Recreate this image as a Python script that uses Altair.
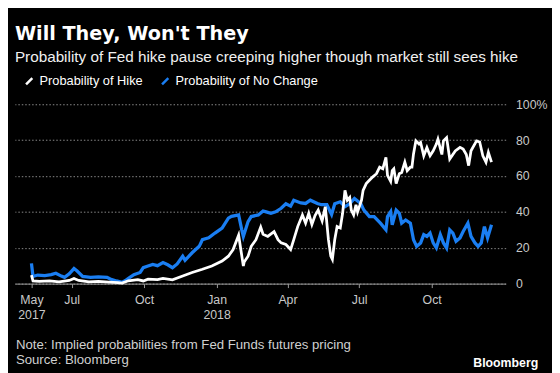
import altair as alt
import pandas as pd

START = "2017-05-11"

# Probability of Hike (white line): days since 2017-05-11, percent
hike_days = [0, 2, 10, 23, 35, 48, 54, 60, 73, 85, 98, 110, 115, 123, 135, 142, 148, 160, 167, 179,
             192, 204, 217, 229, 242, 250, 256, 263, 269, 270, 275, 279, 285, 291, 294, 300, 308, 313,
             317, 323, 329, 333, 338, 344, 348, 352, 356, 360, 364, 369, 373, 377, 380, 382, 385, 388,
             392, 395, 398, 401, 404, 406, 409, 412, 414, 419, 421, 425, 429, 433, 438, 442, 446, 450,
             452, 456, 458, 460, 463, 467, 470, 474, 477, 481, 483, 485, 488, 492, 494, 498, 502, 506,
             510, 514, 516, 521, 523, 527, 531, 538, 544, 548, 552, 555, 558, 565, 569, 573, 577, 580, 584]
hike_vals = [4.7, 1.5, 1.2, 1.5, 1.0, 1.8, 2.9, 1.8, 1.0, 1.2, 0.8, 0.5, 0.3, 1.6, 2.2, 1.5, 2.5, 2.2, 2.9, 2.1,
             4.3, 6.2, 8.0, 9.8, 12.6, 15.3, 19.0, 27.0, 9.8, 12.0, 15.3, 20.8, 24.5, 31.5, 27.5, 26.3, 29.0, 24.5,
             22.7, 21.8, 19.0, 24.5, 31.8, 38.3, 33.7, 39.2, 33.0, 38.0, 41.0, 35.0, 42.9, 24.5, 15.3, 13.5, 24.5, 31.8,
             31.0, 39.2, 52.0, 46.5, 48.0, 41.0, 38.3, 44.0, 40.0, 46.5, 52.0, 55.8, 57.6, 59.4, 61.3, 64.9, 64.0, 70.4,
             60.3, 57.0, 63.0, 64.0, 55.8, 61.3, 62.0, 67.7, 63.0, 64.9, 64.9, 72.3, 79.6, 77.8, 78.7, 71.3, 75.9, 71.3,
             74.1, 77.8, 80.5, 72.0, 79.6, 81.4, 69.5, 74.0, 76.0, 75.0, 72.0, 65.8, 74.1, 79.6, 79.0, 71.3, 67.7, 73.2, 67.7]

# Probability of No Change (blue line)
nochange_days = [0, 2, 8, 17, 25, 31, 38, 42, 48, 54, 58, 65, 75, 85, 96, 100, 108, 115, 120, 125,
                 130, 138, 142, 148, 154, 160, 167, 173, 179, 185, 192, 195, 204, 213, 217, 225, 233, 242,
                 250, 254, 263, 267, 269, 275, 279, 288, 294, 298, 304, 310, 317, 323, 329, 333, 342, 348,
                 354, 363, 368, 375, 381, 385, 392, 398, 404, 410, 418, 422, 429, 435, 443, 450, 452, 456,
                 458, 463, 467, 470, 475, 481, 485, 489, 494, 498, 502, 506, 510, 514, 519, 523, 527, 531,
                 535, 539, 544, 548, 554, 558, 563, 567, 571, 575, 579, 584]
nochange_vals = [11.3, 4.0, 4.8, 4.5, 5.0, 5.8, 4.2, 3.5, 5.5, 8.4, 7.0, 4.0, 3.5, 3.8, 3.5, 2.6, 1.5, 0.7, 2.0, 3.5,
                 5.0, 6.2, 8.9, 9.8, 10.7, 10.0, 11.7, 10.5, 8.9, 11.0, 15.3, 13.0, 17.2, 20.8, 24.5, 25.5, 28.2, 31.0,
                 36.5, 37.5, 38.3, 30.0, 26.3, 34.6, 37.4, 38.3, 40.5, 40.0, 39.2, 40.0, 42.0, 44.5, 43.2, 46.5, 45.0, 44.7,
                 46.5, 44.7, 44.0, 44.0, 38.5, 44.5, 45.6, 42.9, 44.5, 47.5, 44.7, 41.0, 37.4, 37.4, 33.7, 30.0, 37.4, 40.1,
                 32.8, 41.0, 39.2, 33.7, 35.5, 33.7, 24.5, 20.8, 22.7, 27.3, 26.3, 28.2, 22.7, 19.9, 27.3, 22.7, 19.9, 30.0,
                 28.2, 23.6, 25.5, 29.1, 33.7, 26.3, 22.7, 20.8, 22.7, 31.8, 25.5, 32.8]

series_names = ["Probability of Hike", "Probability of No Change"]
series_colors = ["#ffffff", "#1a7ef2"]

title_text = "Will They, Won't They"
subtitle_text = "Probability of Fed hike pause creeping higher though market still sees hike"
note_lines = ["Note: Implied probabilities from Fed Funds futures pricing", "Source: Bloomberg"]
brand_text = "Bloomberg"

y_ticks = [0, 20, 40, 60, 80, 100]

start = pd.Timestamp(START)
df = pd.concat([
    pd.DataFrame({"date": start + pd.to_timedelta(hike_days, unit="D"),
                  "value": hike_vals, "series": series_names[0]}),
    pd.DataFrame({"date": start + pd.to_timedelta(nochange_days, unit="D"),
                  "value": nochange_vals, "series": series_names[1]}),
], ignore_index=True)

W, H = 498, 182
FONT = "Liberation Sans"

x_enc = alt.X(
    "date:T",
    scale=alt.Scale(domain=[alt.DateTime(year=2017, month=4, date=20),
                            alt.DateTime(year=2019, month=1, date=3)]),
    axis=alt.Axis(
        title=None, grid=False,
        values=[alt.DateTime(year=2017, month=5, date=11), alt.DateTime(year=2017, month=7, date=1),
                alt.DateTime(year=2017, month=10, date=1), alt.DateTime(year=2018, month=1, date=1),
                alt.DateTime(year=2018, month=4, date=1), alt.DateTime(year=2018, month=7, date=1),
                alt.DateTime(year=2018, month=10, date=1)],
        labelExpr="(month(datum.value) == 0 || (year(datum.value) == 2017 && month(datum.value) == 4)) ? [timeFormat(datum.value, '%b'), timeFormat(datum.value, '%Y')] : timeFormat(datum.value, '%b')",
        labelFlush=False, labelOverlap=False,
        domainColor="#9a9a9a", tickColor="#9a9a9a", tickSize=4,
        labelColor="#c8c8c8", labelFont=FONT, labelFontSize=12.5, labelLineHeight=15,
        labelPadding=6, labelBaseline="top",
    ),
)
y_enc = alt.Y(
    "value:Q",
    scale=alt.Scale(domain=[0, 100], nice=False),
    axis=alt.Axis(
        title=None, orient="right", values=y_ticks, grid=True, gridDash=[1.5, 2],
        gridColor="#8a8a8a", gridWidth=1, domain=False, ticks=False,
        labelExpr="datum.value == 100 ? '100%' : datum.label",
        labelColor="#c8c8c8", labelFont=FONT, labelFontSize=12.5, labelPadding=10,
    ),
)
color_enc = alt.Color(
    "series:N",
    scale=alt.Scale(domain=series_names, range=series_colors),
    legend=alt.Legend(
        orient="none", legendX=8, legendY=-30, direction="horizontal", title=None,
        symbolType="M-1,1L1,-1", symbolStrokeWidth=2.5, symbolSize=40,
        labelColor="#ffffff", labelFont=FONT, labelFontSize=13, columnPadding=14,
        symbolOffset=0, padding=0,
    ),
)

base = alt.Chart(df).encode(x=x_enc, y=y_enc, color=color_enc)
blue = base.transform_filter(alt.datum.series == series_names[1]).mark_line(strokeWidth=3.3)
white = base.transform_filter(alt.datum.series == series_names[0]).mark_line(strokeWidth=2.8)

note1 = alt.Chart(pd.DataFrame({"t": [note_lines[0]]})).mark_text(
    align="left", baseline="alphabetic", font=FONT, fontSize=13.4, color="#d0d0d0"
).encode(text="t:N", x=alt.value(1), y=alt.value(H + 66))
note2 = alt.Chart(pd.DataFrame({"t": [note_lines[1]]})).mark_text(
    align="left", baseline="alphabetic", font=FONT, fontSize=13.4, color="#d0d0d0"
).encode(text="t:N", x=alt.value(1), y=alt.value(H + 82))
brand = alt.Chart(pd.DataFrame({"t": [brand_text]})).mark_text(
    align="right", baseline="alphabetic", font=FONT, fontSize=12.5, fontWeight="bold", color="#ffffff"
).encode(text="t:N", x=alt.value(W + 33), y=alt.value(H + 85))

chart = alt.layer(blue, white, note1, note2, brand).properties(
    width=W, height=H,
    autosize=alt.AutoSizeParams(type="none"),
    padding={"left": 7, "top": 95, "right": 47, "bottom": 88},
    background="#000000",
    title=alt.Title(
        text=title_text, subtitle=subtitle_text, anchor="start", frame="group",
        font="DejaVu Sans", fontSize=19.5, fontWeight="bold", color="#ffffff",
        subtitleFont=FONT, subtitleFontSize=15.5, subtitleColor="#f0f0f0", subtitlePadding=6,
        offset=8,
    ),
).configure_view(stroke=None)

chart.save("out.html", embed_options={"renderer": "svg", "actions": False})
